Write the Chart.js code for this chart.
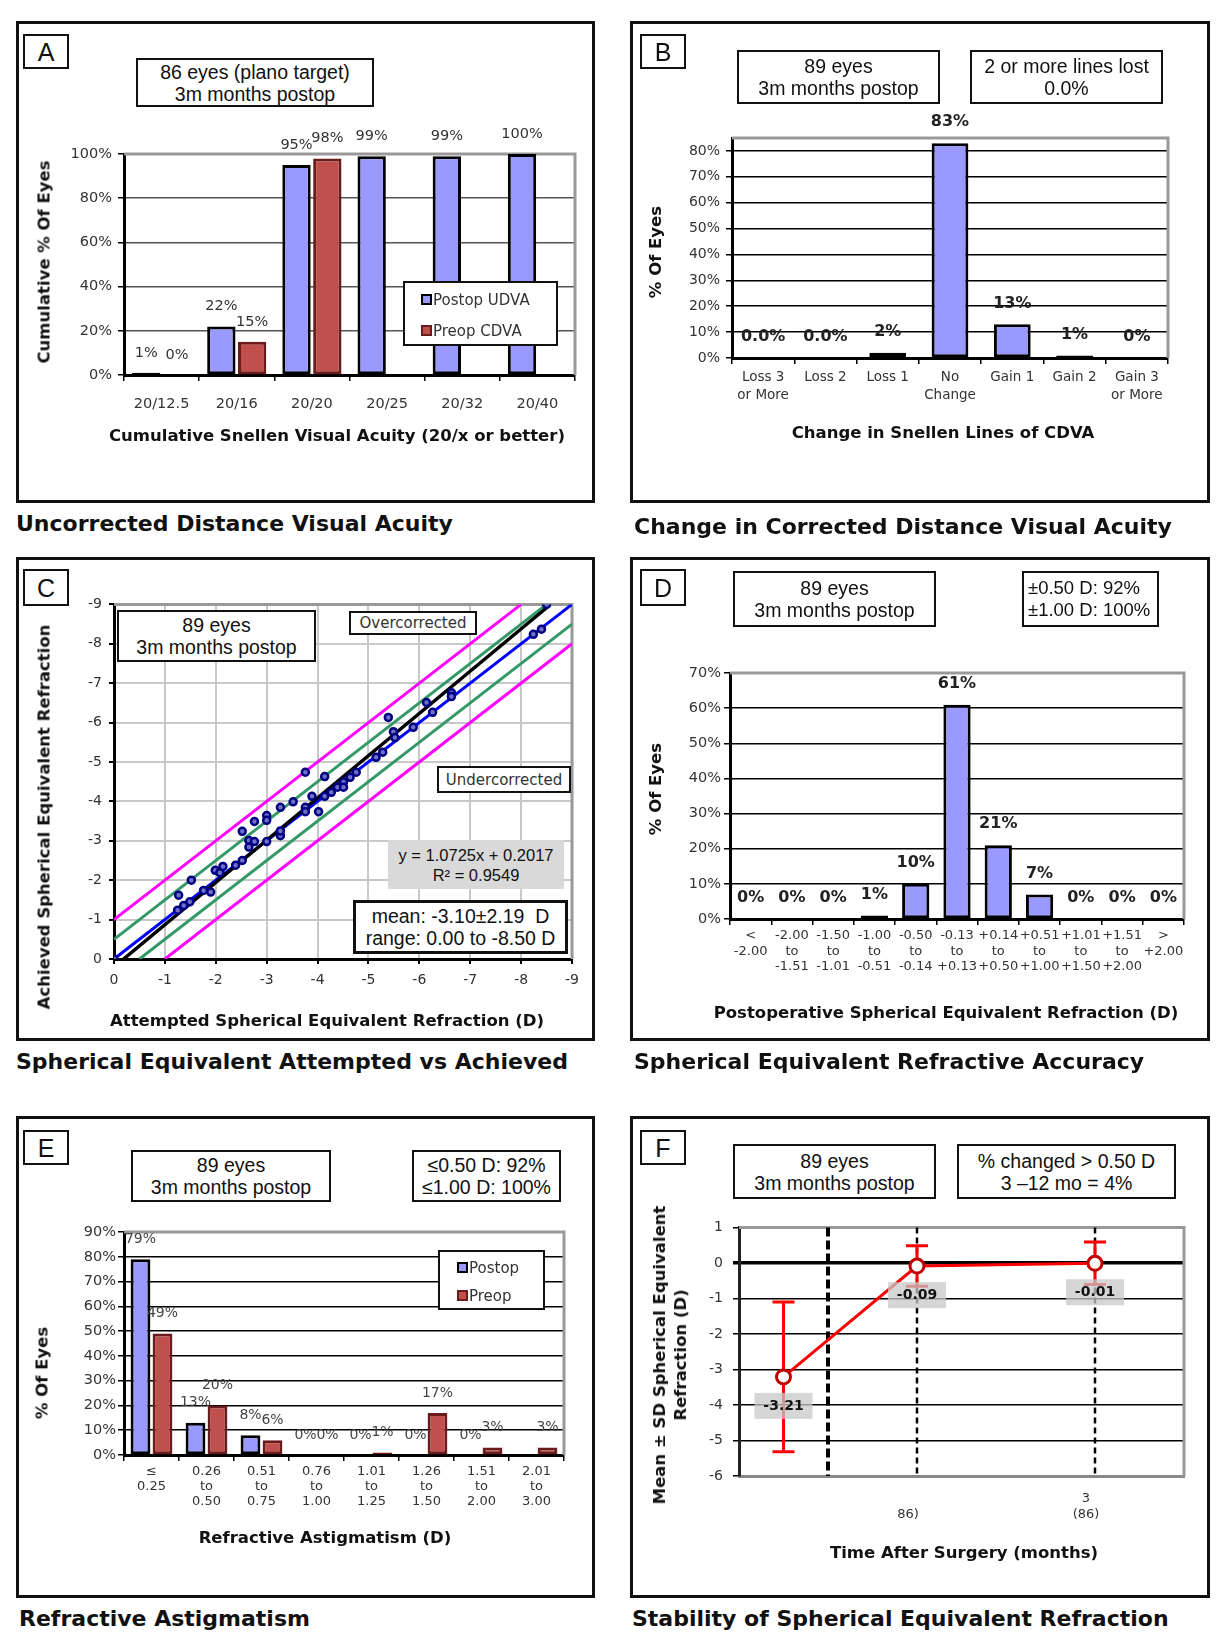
<!DOCTYPE html>
<html lang="en">
<head>
<meta charset="UTF-8">
<title>Refractive Outcomes - Standard Graphs</title>
<script src="https://cdn.jsdelivr.net/npm/chart.js"></script>
<style>
  body { margin: 0; background: #fff; }
  #page { position: relative; width: 1222px; height: 1637px; overflow: hidden; font-family: 'DejaVu Sans', sans-serif; color: #111; }
  canvas { position: absolute; }
  .frame { position: absolute; border: 3px solid #111; box-sizing: border-box; }
  .box { position: absolute; box-sizing: border-box; border: 2.5px solid #111; background: #fff;
         display: flex; flex-direction: column; justify-content: center; align-items: center;
         font-family: 'Liberation Sans', Arial, sans-serif; font-size: 19.5px; line-height: 22px; white-space: nowrap; }
  .box.left { align-items: flex-start; padding-left: 4px; font-size: 18.5px; }
  .letter { font-size: 25px; }
  .note { font-family: 'DejaVu Sans', sans-serif; font-size: 15px; color: #333; border-width: 2px; }
  .eq { border: none; background: #d9d9d9; font-size: 16.5px; line-height: 20px; }
  .ptitle { position: absolute; font-weight: bold; font-size: 22px; line-height: 26px; white-space: nowrap; }
  .axt { position: absolute; font-weight: bold; font-size: 16.5px; line-height: 21px; white-space: nowrap; text-align: center; transform: translate(-50%, -50%); }
  .axt.rot { transform: translate(-50%, -50%) rotate(-90deg); }
  .legend { position: absolute; box-sizing: border-box; border: 2.5px solid #111; background: #fff; font-size: 15px; color: #333; }
  .legend div { position: absolute; white-space: nowrap; line-height: 16px; }
  .legend i { display: inline-block; width: 7px; height: 7px; border: 2px solid #000; vertical-align: 0px; margin-right: 1px; }
</style>
</head>
<body>
<div id="page">
    <canvas id="chartA"></canvas>
    <canvas id="chartB"></canvas>
    <canvas id="chartC"></canvas>
    <canvas id="chartD"></canvas>
    <canvas id="chartE"></canvas>
    <canvas id="chartF"></canvas>

    <!-- A: uncorrected distance visual acuity -->
    <div class="frame" style="left:16px;top:21px;width:579px;height:482px"></div>
    <div class="box letter" style="left:23px;top:34px;width:46px;height:35px">A</div>
    <div class="box" style="left:136px;top:58px;width:238px;height:49px"><span>86 eyes (plano target)</span><span>3m months postop</span></div>
    <div class="legend" style="left:403px;top:281px;width:155px;height:65px">
        <div style="left:16px;top:9px"><i style="background:#9999ff"></i>Postop UDVA</div>
        <div style="left:16px;top:40px"><i style="background:#c0504d;border-color:#6b1b1b"></i>Preop CDVA</div>
    </div>
    <div class="axt rot" style="left:44px;top:262px">Cumulative % Of Eyes</div>
    <div class="axt" style="left:337px;top:435px">Cumulative Snellen Visual Acuity (20/x or better)</div>
    <div class="ptitle" style="left:16px;top:511px">Uncorrected Distance Visual Acuity</div>

    <!-- B: change in CDVA -->
    <div class="frame" style="left:630px;top:21px;width:580px;height:482px"></div>
    <div class="box letter" style="left:640px;top:34px;width:46px;height:35px">B</div>
    <div class="box" style="left:737px;top:50px;width:203px;height:54px"><span>89 eyes</span><span>3m months postop</span></div>
    <div class="box" style="left:970px;top:50px;width:193px;height:54px"><span>2 or more lines lost</span><span>0.0%</span></div>
    <div class="axt rot" style="left:655px;top:252px">% Of Eyes</div>
    <div class="axt" style="left:943px;top:432px">Change in Snellen Lines of CDVA</div>
    <div class="ptitle" style="left:634px;top:514px">Change in Corrected Distance Visual Acuity</div>

    <!-- C: attempted vs achieved -->
    <div class="frame" style="left:16px;top:557px;width:579px;height:484px"></div>
    <div class="box letter" style="left:23px;top:569px;width:46px;height:37px">C</div>
    <div class="box" style="left:117px;top:610px;width:199px;height:52px"><span>89 eyes</span><span>3m months postop</span></div>
    <div class="box note" style="left:349px;top:611px;width:128px;height:24px">Overcorrected</div>
    <div class="box note" style="left:437px;top:766px;width:134px;height:27px">Undercorrected</div>
    <div class="box eq" style="left:388px;top:840px;width:176px;height:49px"><span>y = 1.0725x + 0.2017</span><span>R² = 0.9549</span></div>
    <div class="box" style="left:353px;top:900px;width:215px;height:54px;border-width:3px"><span>mean: -3.10±2.19&nbsp; D</span><span>range: 0.00 to -8.50 D</span></div>
    <div class="axt rot" style="left:44px;top:817px">Achieved Spherical Equivalent Refraction</div>
    <div class="axt" style="left:327px;top:1020px">Attempted Spherical Equivalent Refraction (D)</div>
    <div class="ptitle" style="left:16px;top:1049px">Spherical Equivalent Attempted vs Achieved</div>

    <!-- D: SE refractive accuracy -->
    <div class="frame" style="left:630px;top:557px;width:580px;height:484px"></div>
    <div class="box letter" style="left:640px;top:569px;width:46px;height:37px">D</div>
    <div class="box" style="left:733px;top:571px;width:203px;height:56px"><span>89 eyes</span><span>3m months postop</span></div>
    <div class="box left" style="left:1022px;top:571px;width:137px;height:56px"><span>±0.50 D: 92%</span><span>±1.00 D: 100%</span></div>
    <div class="axt rot" style="left:655px;top:789px">% Of Eyes</div>
    <div class="axt" style="left:946px;top:1012px">Postoperative Spherical Equivalent Refraction (D)</div>
    <div class="ptitle" style="left:634px;top:1049px">Spherical Equivalent Refractive Accuracy</div>

    <!-- E: refractive astigmatism -->
    <div class="frame" style="left:16px;top:1116px;width:579px;height:482px"></div>
    <div class="box letter" style="left:23px;top:1130px;width:46px;height:35px">E</div>
    <div class="box" style="left:131px;top:1150px;width:200px;height:52px"><span>89 eyes</span><span>3m months postop</span></div>
    <div class="box" style="left:412px;top:1150px;width:149px;height:52px"><span>≤0.50 D: 92%</span><span>≤1.00 D: 100%</span></div>
    <div class="legend" style="left:438px;top:1250px;width:107px;height:60px">
        <div style="left:17px;top:8px"><i style="background:#9999ff"></i>Postop</div>
        <div style="left:17px;top:36px"><i style="background:#c0504d;border-color:#6b1b1b"></i>Preop</div>
    </div>
    <div class="axt rot" style="left:42px;top:1373px">% Of Eyes</div>
    <div class="axt" style="left:325px;top:1537px">Refractive Astigmatism (D)</div>
    <div class="ptitle" style="left:19px;top:1606px">Refractive Astigmatism</div>

    <!-- F: stability -->
    <div class="frame" style="left:630px;top:1116px;width:580px;height:482px"></div>
    <div class="box letter" style="left:640px;top:1130px;width:46px;height:35px">F</div>
    <div class="box" style="left:733px;top:1144px;width:203px;height:55px"><span>89 eyes</span><span>3m months postop</span></div>
    <div class="box" style="left:957px;top:1144px;width:219px;height:55px"><span>% changed &gt; 0.50 D</span><span>3 –12 mo = 4%</span></div>
    <div class="axt rot" style="left:670px;top:1355px">Mean ± SD Spherical Equivalent<br>Refraction (D)</div>
    <div class="axt" style="left:964px;top:1552px">Time After Surgery (months)</div>
    <div class="ptitle" style="left:632px;top:1606px">Stability of Spherical Equivalent Refraction</div>
</div>

<script>
    // A: cumulative Snellen acuity
    const acuityLabels = ['20/12.5', '20/16', '20/20', '20/25', '20/32', '20/40'];
    const udvaPostop = [1, 22, 95, 99, 99, 100];
    const cdvaPreop = [0, 15, 98, null, null, null];

    // B: change in Snellen lines of CDVA
    const lineChangeLabels = [['Loss 3', 'or More'], 'Loss 2', 'Loss 1', ['No', 'Change'], 'Gain 1', 'Gain 2', ['Gain 3', 'or More']];
    const lineChangePct = [0, 0, 2, 83, 13, 1, 0];
    const lineChangeText = ['0.0%', '0.0%', '2%', '83%', '13%', '1%', '0%'];

    // C: attempted vs achieved spherical equivalent (D)
    const attemptedSE = [0, -1.25, -1.27, -1.37, -1.49, -1.52, -1.76, -1.9, -1.99, -2.08, -2.14, -2.39, -2.52, -2.52,
        -2.65, -2.65, -2.76, -2.76, -3.0, -3.0, -3.0, -3.27, -3.27, -3.27, -3.52, -3.76, -3.76, -3.76, -3.89, -4.02,
        -4.14, -4.14, -4.27, -4.39, -4.51, -4.51, -4.64, -4.76, -5.15, -5.28, -5.39, -5.49, -5.52, -5.88, -6.14,
        -6.26, -6.63, -6.63, -8.24, -8.4, -8.5];
    const achievedSE = [0, -1.24, -1.62, -1.36, -1.45, -2.0, -1.74, -1.7, -2.25, -2.19, -2.35, -2.38, -2.5, -3.24,
        -3.01, -2.84, -3.49, -2.98, -3.64, -3.52, -2.98, -3.85, -3.13, -3.25, -3.99, -4.74, -3.85, -3.74, -4.13, -3.74,
        -4.63, -4.13, -4.23, -4.36, -4.49, -4.36, -4.61, -4.74, -5.12, -5.25, -6.13, -5.77, -5.62, -5.88, -6.51,
        -6.26, -6.76, -6.66, -8.24, -8.37, -9.0];
    const trendSlope = 1.0725;
    const trendIntercept = 0.2017;
    const bandOffsets = [-1, -0.5, 0.5, 1];

    // D: postoperative SE distribution
    const seBins = [['<', '-2.00'], ['-2.00', 'to', '-1.51'], ['-1.50', 'to', '-1.01'], ['-1.00', 'to', '-0.51'],
        ['-0.50', 'to', '-0.14'], ['-0.13', 'to', '+0.13'], ['+0.14', 'to', '+0.50'], ['+0.51', 'to', '+1.00'],
        ['+1.01', 'to', '+1.50'], ['+1.51', 'to', '+2.00'], ['>', '+2.00']];
    const sePct = [0, 0, 0, 1, 10, 61, 21, 7, 0, 0, 0];

    // E: refractive astigmatism
    const cylBins = [['≤', '0.25'], ['0.26', 'to', '0.50'], ['0.51', 'to', '0.75'], ['0.76', 'to', '1.00'],
        ['1.01', 'to', '1.25'], ['1.26', 'to', '1.50'], ['1.51', 'to', '2.00'], ['2.01', 'to', '3.00']];
    const cylPostop = [79, 13, 8, 0, 0, 0, 0, null];
    const cylPreop = [49, 20, 6, 0, 1, 17, 3, 3];

    // F: stability of SE over time
    const visitX = [0.5, 2, 4];
    const visitLabels = [null, ['', '86)'], ['3', '(86)']];
    const meanSE = [-3.21, -0.09, -0.01];
    const sdSE = [2.11, 0.57, 0.6];
    const preopDividerX = 1;

    Chart.defaults.font.family = "'DejaVu Sans', sans-serif";
    Chart.defaults.color = '#333';

    // place a canvas so the chart area lands on plot = [left, top, right, bottom]
    function setupCanvas(id, plot, axisW, axisH, padT, padR) {
        const c = document.getElementById(id);
        const w = plot[2] - plot[0] + axisW + padR;
        const h = plot[3] - plot[1] + padT + axisH;
        c.width = w;
        c.height = h;
        c.style.left = (plot[0] - axisW) + 'px';
        c.style.top = (plot[1] - padT) + 'px';
        c.style.width = w + 'px';
        c.style.height = h + 'px';
        return c;
    }

    // gray top/right edge of the plot area
    const plotFrame = {
        id: 'plotFrame',
        beforeDatasetsDraw(chart) {
            const { ctx, chartArea: a } = chart;
            ctx.save();
            ctx.strokeStyle = '#999';
            ctx.lineWidth = 3;
            ctx.beginPath();
            ctx.moveTo(a.left, a.top);
            ctx.lineTo(a.right, a.top);
            ctx.lineTo(a.right, a.bottom);
            ctx.stroke();
            ctx.restore();
        }
    };

    // value labels above bars
    const barLabels = {
        id: 'barLabels',
        afterDatasetsDraw(chart, args, opts) {
            if (!opts.font) return;
            const ctx = chart.ctx;
            ctx.save();
            ctx.font = opts.font;
            ctx.fillStyle = opts.color;
            ctx.textAlign = 'center';
            ctx.textBaseline = 'middle';
            chart.data.datasets.forEach((ds, i) => {
                chart.getDatasetMeta(i).data.forEach((el, j) => {
                    const v = ds.data[j];
                    if (v === null || v === undefined) return;
                    const t = opts.texts ? opts.texts[j] : v + '%';
                    ctx.fillText(t, el.x, el.y - opts.offset);
                });
            });
            ctx.restore();
        }
    };

    function baseOptions(padT, padR, labelOpts) {
        return {
            responsive: false,
            animation: false,
            events: [],
            layout: { padding: { top: padT, right: padR, left: 0, bottom: 0 } },
            plugins: { legend: { display: false }, tooltip: { enabled: false }, barLabels: labelOpts || {} }
        };
    }

    function pctAxis(max, step, size, gridColor, pad, axisW) {
        return {
            min: 0,
            max: max,
            afterBuildTicks: ax => {
                const t = [];
                for (let v = 0; v <= max; v += step) t.push({ value: v });
                ax.ticks = t;
            },
            ticks: { stepSize: step, padding: pad, color: '#333', font: { size: size }, callback: v => v + '%' },
            grid: { color: gridColor, lineWidth: 1.5, tickLength: 6, tickColor: '#000' },
            border: { color: '#000', width: 3 },
            afterFit: s => { s.width = axisW; }
        };
    }

    function catAxis(size, lineHeight, pad, axisH) {
        return {
            ticks: { padding: pad, color: '#333', font: { size: size, lineHeight: lineHeight }, maxRotation: 0, autoSkip: false },
            grid: { drawOnChartArea: false, tickLength: 6, color: '#000', lineWidth: 1.5 },
            border: { color: '#000', width: 3 },
            afterFit: s => { s.height = axisH; }
        };
    }

    const postopBar = { backgroundColor: '#9999ff', borderColor: '#000', borderWidth: 3, borderSkipped: false };
    const preopBar = { backgroundColor: '#c0504d', borderColor: '#6b1b1b', borderWidth: 3, borderSkipped: false };

    // ---- A ----
    const plotA = [124, 154, 575, 375];
    new Chart(setupCanvas('chartA', plotA, 60, 50, 34, 14), {
        type: 'bar',
        data: {
            labels: acuityLabels,
            datasets: [
                Object.assign({ data: udvaPostop, categoryPercentage: 0.82, barPercentage: 0.92 }, postopBar),
                Object.assign({ data: cdvaPreop, categoryPercentage: 0.82, barPercentage: 0.92 }, preopBar)
            ]
        },
        options: Object.assign(baseOptions(34, 14, { font: '14.5px "DejaVu Sans"', color: '#333', offset: 20 }), {
            scales: { x: catAxis(14.5, 1.2, 15, 50), y: pctAxis(100, 20, 14.5, '#555', 6, 60) }
        }),
        plugins: [plotFrame, barLabels]
    });

    // ---- B ----
    const plotB = [732, 138, 1168, 358];
    new Chart(setupCanvas('chartB', plotB, 60, 60, 30, 14), {
        type: 'bar',
        data: {
            labels: lineChangeLabels,
            datasets: [Object.assign({ data: lineChangePct, categoryPercentage: 1, barPercentage: 0.59 }, postopBar)]
        },
        options: Object.assign(baseOptions(30, 14, { font: 'bold 16px "DejaVu Sans"', color: '#222', offset: 21, texts: lineChangeText }), {
            scales: { x: catAxis(13.5, 1.3, 5, 60), y: pctAxis(85, 10, 14, '#000', 6, 60) }
        }),
        plugins: [plotFrame, barLabels]
    });

    // ---- C ----
    const plotC = [114, 603, 573, 959];
    const scatterPts = attemptedSE.map((x, i) => ({ x: x, y: achievedSE[i] }));
    const maxAttempted = Math.min(...attemptedSE);
    const trendLine = [
        { x: -trendIntercept / trendSlope, y: 0 },
        { x: maxAttempted, y: trendSlope * maxAttempted + trendIntercept }
    ];
    function bandLine(k) {
        // y = x + k clipped to the [-9, 0] box
        return k < 0 ? [{ x: 0, y: k }, { x: -9 - k, y: -9 }] : [{ x: -k, y: 0 }, { x: -9, y: -9 + k }];
    }
    const lineSet = (data, color, width) => ({ data: data, showLine: true, borderColor: color, borderWidth: width, pointRadius: 0 });
    const seAxis = (pad, afterFit) => ({
        type: 'linear', min: -9, max: 0, reverse: true,
        ticks: { stepSize: 1, padding: pad, color: '#333', font: { size: 14 } },
        grid: { color: '#c8c8c8', lineWidth: 2, tickLength: 5, tickColor: '#000' },
        border: { color: '#000', width: 3 },
        afterFit: afterFit
    });
    new Chart(setupCanvas('chartC', plotC, 60, 40, 14, 14), {
        type: 'scatter',
        data: {
            datasets: [
                { data: scatterPts, pointRadius: 3.5, pointBorderWidth: 2.5, pointBorderColor: '#000080', pointBackgroundColor: '#7070c8' },
                lineSet(trendLine, '#000', 3.5),
                lineSet([{ x: 0, y: 0 }, { x: -9, y: -9 }], '#0000ff', 3),
                lineSet(bandLine(bandOffsets[1]), '#339966', 3),
                lineSet(bandLine(bandOffsets[2]), '#339966', 3),
                lineSet(bandLine(bandOffsets[0]), '#ff00ff', 3),
                lineSet(bandLine(bandOffsets[3]), '#ff00ff', 3)
            ]
        },
        options: Object.assign(baseOptions(14, 14), {
            scales: {
                x: seAxis(8, s => { s.height = 40; }),
                y: seAxis(7, s => { s.width = 60; })
            }
        }),
        plugins: [plotFrame]
    });

    // ---- D ----
    const plotD = [730, 673, 1184, 919];
    new Chart(setupCanvas('chartD', plotD, 60, 70, 14, 14), {
        type: 'bar',
        data: {
            labels: seBins,
            datasets: [Object.assign({ data: sePct, categoryPercentage: 1, barPercentage: 0.66 }, postopBar)]
        },
        options: Object.assign(baseOptions(14, 14, { font: 'bold 16px "DejaVu Sans"', color: '#222', offset: 21 }), {
            scales: { x: catAxis(13, 1.2, 3, 70), y: pctAxis(70, 10, 14.5, '#000', 3, 60) }
        }),
        plugins: [plotFrame, barLabels]
    });

    // ---- E ----
    const plotE = [124, 1232, 564, 1455];
    new Chart(setupCanvas('chartE', plotE, 60, 70, 14, 14), {
        type: 'bar',
        data: {
            labels: cylBins,
            datasets: [
                Object.assign({ data: cylPostop, categoryPercentage: 0.8, barPercentage: 0.9 }, postopBar),
                Object.assign({ data: cylPreop, categoryPercentage: 0.8, barPercentage: 0.9 }, preopBar)
            ]
        },
        options: Object.assign(baseOptions(14, 14, { font: '14px "DejaVu Sans"', color: '#444', offset: 20 }), {
            scales: { x: catAxis(13, 1.15, 3.5, 70), y: pctAxis(90, 10, 14.5, '#000', 2, 60) }
        }),
        plugins: [plotFrame, barLabels]
    });

    // ---- F ----
    const plotF = [739, 1223, 1184, 1476];
    const stabilityExtras = {
        id: 'stabilityExtras',
        beforeDatasetsDraw(chart) {
            const { ctx, chartArea: a, scales: { x, y } } = chart;
            ctx.save();
            // visit markers
            const markers = [[preopDividerX, 4, [9, 4]], [visitX[1], 2.5, [6, 4]], [visitX[2], 2.5, [6, 4]]];
            markers.forEach(([t, w, dash]) => {
                const px = x.getPixelForValue(t);
                ctx.strokeStyle = '#000';
                ctx.lineWidth = w;
                ctx.setLineDash(dash);
                ctx.beginPath();
                ctx.moveTo(px, a.top);
                ctx.lineTo(px, a.bottom);
                ctx.stroke();
            });
            ctx.setLineDash([]);
            // mean ± SD error bars
            ctx.strokeStyle = '#ff0000';
            ctx.lineWidth = 3;
            visitX.forEach((t, i) => {
                const px = x.getPixelForValue(t);
                const hi = y.getPixelForValue(meanSE[i] + sdSE[i]);
                const lo = y.getPixelForValue(meanSE[i] - sdSE[i]);
                ctx.beginPath();
                ctx.moveTo(px, hi); ctx.lineTo(px, lo);
                ctx.moveTo(px - 11, hi); ctx.lineTo(px + 11, hi);
                ctx.moveTo(px - 11, lo); ctx.lineTo(px + 11, lo);
                ctx.stroke();
            });
            ctx.restore();
        },
        afterDatasetsDraw(chart) {
            const { ctx, scales: { x, y } } = chart;
            ctx.save();
            ctx.font = 'bold 14px "DejaVu Sans"';
            ctx.textAlign = 'center';
            ctx.textBaseline = 'middle';
            visitX.forEach((t, i) => {
                const px = x.getPixelForValue(t);
                const py = y.getPixelForValue(meanSE[i]) + 29;
                ctx.fillStyle = 'rgba(200,200,200,0.75)';
                ctx.fillRect(px - 29, py - 13, 58, 26);
                ctx.fillStyle = '#111';
                ctx.fillText(meanSE[i].toFixed(2), px, py);
            });
            ctx.restore();
        }
    };
    new Chart(setupCanvas('chartF', plotF, 60, 70, 14, 14), {
        type: 'line',
        data: {
            datasets: [{
                data: visitX.map((x, i) => ({ x: x, y: meanSE[i] })),
                borderColor: '#ff0000', borderWidth: 3, tension: 0,
                pointRadius: 7, pointBackgroundColor: '#fff', pointBorderColor: '#c00000', pointBorderWidth: 3
            }]
        },
        options: Object.assign(baseOptions(14, 14), {
            scales: {
                x: {
                    type: 'linear', min: 0, max: 5,
                    grid: { display: false },
                    border: { color: '#888', width: 3 },
                    afterBuildTicks: ax => { ax.ticks = [visitX[1], visitX[2]].map(v => ({ value: v })); },
                    ticks: { padding: 7, labelOffset: -9, color: '#333', font: { size: 13, lineHeight: 1.2 }, callback: v => visitLabels[visitX.indexOf(v)] },
                    afterFit: s => { s.height = 70; }
                },
                y: {
                    min: -6, max: 1,
                    ticks: { stepSize: 1, padding: 10, color: '#333', font: { size: 14 } },
                    grid: { color: '#000', lineWidth: c => (c.tick && c.tick.value === 0 ? 3.5 : 1.5), tickLength: 6, tickColor: '#000' },
                    border: { color: '#222', width: 3 },
                    afterFit: s => { s.width = 60; }
                }
            }
        }),
        plugins: [plotFrame, stabilityExtras]
    });
</script>
</body>
</html>
